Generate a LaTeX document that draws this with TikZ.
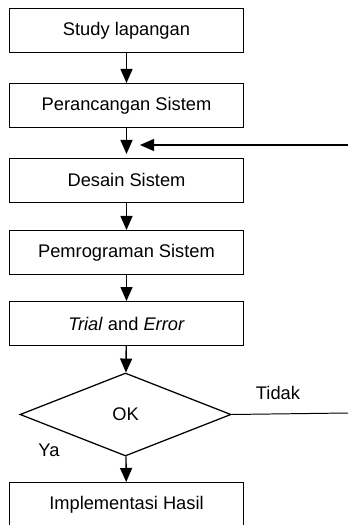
\documentclass[tikz,border=0pt]{standalone}
\usepackage{fontspec}
\setmainfont{Liberation Sans}
\usetikzlibrary{shapes.geometric, arrows.meta}

\begin{document}
\begin{tikzpicture}[x=0.025cm, y=-0.025cm,
  box/.style={draw, line width=0.7pt, minimum width=5.825cm, minimum height=1.1cm,
    inner sep=0pt, font=\fontsize{13}{15}\selectfont},
  decision/.style={diamond, draw, line width=0.9pt, minimum width=5.275cm,
    minimum height=2.075cm, inner sep=0pt, font=\fontsize{13}{15}\selectfont},
  flow/.style={line width=1pt, -{Triangle[length=0.35cm, width=0.3cm]}},
  lbl/.style={font=\fontsize{13}{15}\selectfont}]
  \useasboundingbox (0,0) rectangle (348,525);

  \node[box] (study) at (126.5,30.5) {Study lapangan};
  \node[box] (rancang) at (126.5,105.5) {Perancangan Sistem};
  \node[box] (desain) at (126.5,180) {Desain Sistem};
  \node[box] (program) at (126.5,252.5) {Pemrograman Sistem};
  \node[box] (trial) at (126.5,323.5) {\textit{Trial} and \textit{Error}};
  \node[decision] (ok) at (125.5,414.5) {OK};
  \node[box] (impl) at (126.5,504.5) {Implementasi Hasil};

  \coordinate (balik) at (348,145);
  \coordinate (masuk) at (140,145);
  \coordinate (tidakend) at (348,413);

  \draw[flow] (study) -- (rancang);
  \draw[flow] (rancang.south) -- ++(0,26);
  \draw[flow] (balik) -- (masuk);
  \draw[flow] (desain) -- (program);
  \draw[flow] (program) -- (trial);
  \draw[flow] (trial) -- (ok);
  \draw[flow] (ok) -- (impl);
  \draw[line width=0.7pt] (ok.east) -- (tidakend);

  \node[lbl] (tidak) at (278,393) {Tidak};
  \node[lbl] (ya) at (49,450) {Ya};
\end{tikzpicture}
\end{document}
